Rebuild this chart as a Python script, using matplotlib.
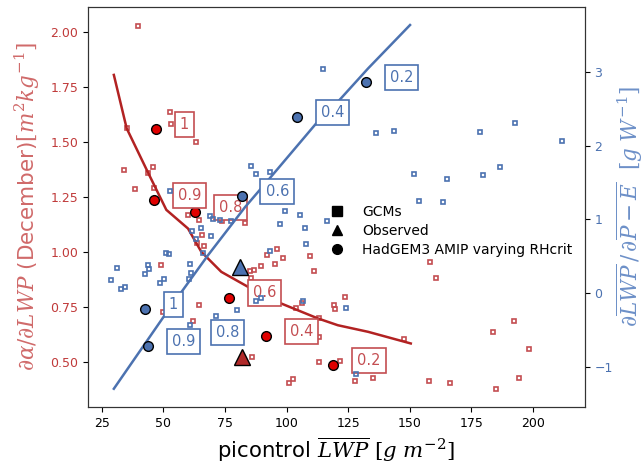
import numpy as np
import matplotlib
matplotlib.use('Agg')
import matplotlib.pyplot as plt
from matplotlib.lines import Line2D

plt.rcParams['mathtext.fontset'] = 'dejavuserif'

# GCMs: picontrol LWP vs d(alpha)/d(LWP)  (left axis)
gcm_lwp_a = [39.7, 52.6, 53.2, 63.1, 35.1, 33.9, 45.8, 43.9, 38.5, 46.2, 60.0, 64.6,
             73.8, 83.0, 65.8, 63.6, 66.5, 49.2, 96.1, 92.0, 98.4, 95.5, 89.6, 86.6,
             85.2, 85.4, 109.3, 111.3, 64.3, 49.8, 62.1, 103.8, 106.2, 119.2, 119.7,
             113.1, 113.0, 86.0, 113.1, 102.8, 100.9, 123.6, 121.5, 127.7, 135.1,
             158.1, 160.5, 147.7, 157.7, 166.3, 183.9, 192.2, 198.3, 194.3, 185.0]
gcm_dalpha = [2.03, 1.636, 1.584, 1.502, 1.563, 1.373, 1.385, 1.361, 1.288, 1.291, 1.168,
              1.148, 1.141, 1.133, 1.077, 1.042, 1.027, 0.939, 1.015, 0.986, 0.972, 0.945,
              0.936, 0.919, 0.914, 0.884, 0.983, 0.914, 0.760, 0.725, 0.685, 0.746, 0.766,
              0.761, 0.740, 0.698, 0.614, 0.521, 0.500, 0.424, 0.402, 0.795, 0.505, 0.414,
              0.429, 0.953, 0.883, 0.605, 0.412, 0.403, 0.635, 0.688, 0.561, 0.427, 0.376]

# GCMs: picontrol LWP vs dLWP/d(P-E)  (right axis)
gcm_lwp_b = [114.6, 85.6, 87.4, 93.3, 52.7, 99.4, 136.3, 143.4, 178.3, 192.6, 211.6,
             151.6, 165.2, 179.6, 186.7, 153.9, 163.4, 105.3, 116.3, 97.4, 107.3, 107.7,
             93.2, 69.0, 70.1, 73.1, 77.5, 61.6, 65.1, 63.2, 69.4, 66.1, 51.2, 52.4, 60.8,
             61.3, 60.4, 43.8, 44.2, 42.4, 50.4, 48.5, 31.1, 28.6, 34.6, 32.8, 87.7, 89.6,
             79.8, 71.3, 60.8, 106.5, 124.3, 128.1]
gcm_dlwp = [3.037, 1.717, 1.622, 1.644, 1.382, 1.12, 2.169, 2.196, 2.182, 2.308, 2.06,
            1.617, 1.55, 1.6, 1.708, 1.247, 1.237, 1.066, 0.976, 0.935, 0.88, 0.668, 0.573,
            1.044, 1.012, 0.998, 0.976, 0.84, 0.88, 0.731, 0.782, 0.551, 0.546, 0.538,
            0.402, 0.275, 0.2, 0.389, 0.334, 0.257, 0.2, 0.135, 0.342, 0.176, 0.09, 0.058,
            -0.109, -0.064, -0.227, -0.308, -0.425, -0.105, -0.195, -1.099]

# HadGEM3 AMIP varying RHcrit
rhcrit = ['1', '0.9', '0.8', '0.6', '0.4', '0.2']
had_lwp_a = [47.1, 46.2, 63.0, 76.7, 91.7, 119.0]
had_dalpha = [1.558, 1.238, 1.183, 0.793, 0.616, 0.485]
had_lwp_b = [42.6, 43.8, 61.7, 81.9, 104.3, 132.3]
had_dlwp = [-0.213, -0.72, -0.59, 1.319, 2.386, 2.856]

# observed
obs_lwp_a, obs_dalpha = 82.0, 0.524
obs_lwp_b, obs_dlwp = 81.2, 0.359

# fitted curves
fit_a_x = [29.9, 35.1, 43.8, 51.2, 60.0, 65.4, 73.5, 84.3, 97.8, 112.7, 120.8, 133.1, 150.4]
fit_a_y = [1.806, 1.563, 1.361, 1.192, 1.107, 1.001, 0.910, 0.842, 0.766, 0.698, 0.667, 0.637, 0.584]
fit_b_x = [29.9, 50.5, 68.1, 83.1, 93.1, 112.0, 120.8, 133.1, 150.1]
fit_b_y = [-1.293, -0.299, 0.515, 1.165, 1.555, 2.30, 2.593, 3.046, 3.633]

red_sq = '#c44e52'
red_line = '#b22222'
blue = '#4c72b0'

fig = plt.figure(figsize=(6.44, 4.67), dpi=100)
ax = fig.add_axes([0.1366, 0.1285, 0.7714, 0.8565])
ax2 = ax.twinx()

ax.plot(gcm_lwp_a, gcm_dalpha, 's', ms=3.5, mfc='none', mec=red_sq, mew=1.2, ls='none')
ax.plot(fit_a_x, fit_a_y, '-', color=red_line, lw=1.8)
ax.plot(had_lwp_a, had_dalpha, 'o', ms=7, mfc='#e00000', mec='k', mew=1, ls='none')
ax.plot([obs_lwp_a], [obs_dalpha], '^', ms=11, mfc='#b02a2a', mec='k', mew=1, ls='none')
for lab, x, y in zip(rhcrit, had_lwp_a, had_dalpha):
    ax.annotate(lab, (x, y), xytext=(17, 3.3), textcoords='offset points',
                ha='left', va='center', fontsize=10.5, color=red_sq,
                bbox=dict(boxstyle='square,pad=0.35', fc='white', ec=red_sq, lw=1.2))

ax2.plot(gcm_lwp_b, gcm_dlwp, 's', ms=3.5, mfc='none', mec=blue, mew=1.2, ls='none')
ax2.plot(fit_b_x, fit_b_y, '-', color=blue, lw=1.8)
ax2.plot(had_lwp_b, had_dlwp, 'o', ms=7, mfc=blue, mec='k', mew=1, ls='none')
ax2.plot([obs_lwp_b], [obs_dlwp], '^', ms=11, mfc=blue, mec='k', mew=1, ls='none')
for lab, x, y in zip(rhcrit, had_lwp_b, had_dlwp):
    ax2.annotate(lab, (x, y), xytext=(17, 3.3), textcoords='offset points',
                 ha='left', va='center', fontsize=10.5, color=blue,
                 bbox=dict(boxstyle='square,pad=0.35', fc='white', ec=blue, lw=1.2))

ax.set_xlim(19.4, 221)
ax.set_ylim(0.295, 2.115)
ax2.set_ylim(-1.54, 3.877)
ax.set_xticks([25, 50, 75, 100, 125, 150, 175, 200])
ax.set_yticks([0.5, 0.75, 1.0, 1.25, 1.5, 1.75, 2.0])
ax2.set_yticks([-1, 0, 1, 2, 3])
ax.tick_params(axis='x', labelsize=9)
ax.tick_params(axis='y', labelsize=9, labelcolor='#c03a3a')
ax2.tick_params(axis='y', labelsize=9, labelcolor=blue)

ax.set_xlabel(r'picontrol $\overline{LWP}$ $[g\ m^{-2}]$', fontsize=15.3)
ax.set_ylabel(r'$\partial\alpha/\partial LWP$ (December)$[m^2kg^{-1}]$', fontsize=15.5,
              color='#d06a6a', labelpad=6)
ax2.set_ylabel(r'$\partial\overline{LWP}\,/\,\partial\overline{P-E}\ \ [g\ W^{-1}]$',
               fontsize=15.5, color='#6d90c8', labelpad=1.5)

for a in (ax, ax2):
    for s in a.spines.values():
        s.set_color('#333333')

handles = [Line2D([], [], marker='s', color='k', ls='none', ms=7),
           Line2D([], [], marker='^', color='k', ls='none', ms=7),
           Line2D([], [], marker='o', color='k', ls='none', ms=7)]
ax2.legend(handles, ['GCMs', 'Observed', 'HadGEM3 AMIP varying RHcrit'],
           loc='center left', bbox_to_anchor=(0.448, 0.44), frameon=False,
           fontsize=10, labelspacing=0.35)

fig.savefig('out.png', dpi=100)
